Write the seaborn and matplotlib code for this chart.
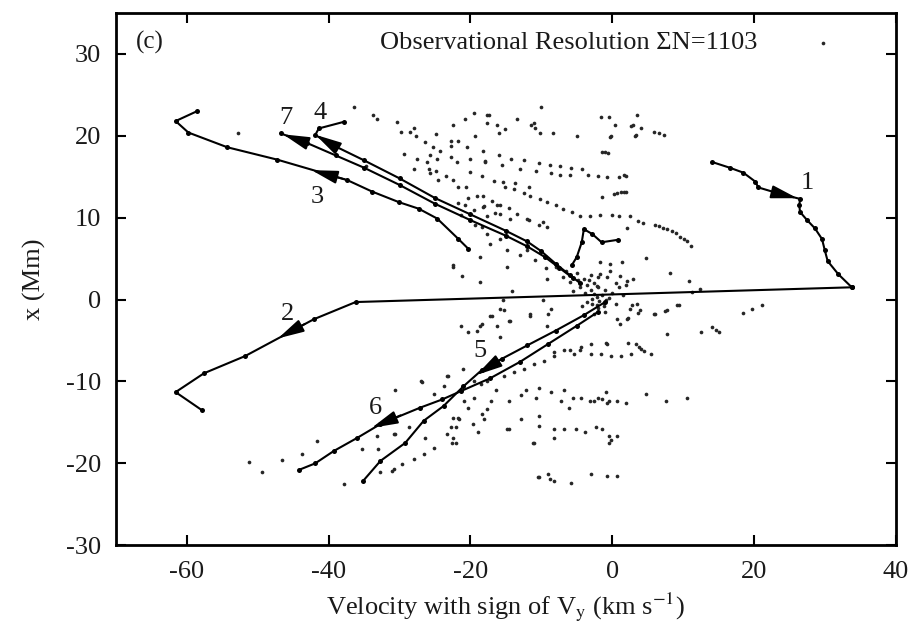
import numpy as np
import pandas as pd
import matplotlib
matplotlib.use("Agg")
import matplotlib.pyplot as plt
import seaborn as sns

# ---------------- data ----------------
track1_vx = [14.1, 16.6, 18.5, 20.2, 20.6, 23.7, 26.5, 26.4, 26.5, 27.5, 28.6, 29.6, 30.0, 30.4, 31.9, 33.8]
track1_x = [16.8, 16.1, 15.5, 14.4, 13.7, 12.9, 12.3, 11.5, 10.7, 9.7, 8.7, 7.4, 6.0, 4.7, 3.1, 1.5]

track2_vx = [33.8, -36.2, -42.1, -51.8, -57.6, -61.6, -57.9]
track2_x = [1.5, -0.3, -2.4, -6.9, -9.0, -11.3, -13.5]

track3_vx = [-58.6, -61.6, -59.8, -54.3, -47.3, -37.4, -33.9, -30.1, -27.3, -24.7, -21.7, -20.3]
track3_x = [23.0, 21.8, 20.4, 18.6, 17.1, 14.6, 13.2, 11.9, 11.1, 9.9, 7.4, 6.2]

track4_vx = [-37.9, -41.4, -41.9, -39.5, -35.0, -30.0, -25.0, -20.0, -15.0, -12.0, -10.0, -8.0, -6.0, -4.5]
track4_x = [21.7, 20.9, 20.1, 18.9, 17.0, 14.8, 12.4, 10.4, 8.4, 7.1, 5.9, 4.4, 3.0, 2.0]

track7_vx = [-46.8, -43.0, -39.0, -35.0, -30.0, -25.0, -20.0, -15.0, -12.0, -9.5, -7.5, -5.5]
track7_x = [20.3, 19.1, 17.6, 16.1, 14.0, 11.7, 9.7, 7.8, 6.5, 5.2, 3.9, 2.6]

wiggle_vx = [-5.7, -5.0, -4.3, -4.0, -2.8, -1.5, 0.8]
wiggle_x = [4.2, 5.2, 7.0, 8.6, 8.0, 7.0, 7.3]

track5_vx = [-1.0, -4.0, -8.0, -12.0, -15.5, -18.4, -21.0, -23.8, -26.6, -29.2, -32.7, -35.2]
track5_x = [-0.3, -1.9, -3.8, -5.6, -7.2, -8.6, -10.6, -13.0, -14.8, -17.5, -19.7, -22.2]

track6_vx = [-2.0, -5.0, -9.0, -13.0, -17.2, -21.4, -24.0, -27.1, -32.7, -36.0, -39.3, -41.9, -44.2]
track6_x = [-1.5, -3.2, -5.4, -7.6, -9.6, -11.2, -12.2, -13.2, -15.2, -16.9, -18.5, -20.0, -20.8]

upper_dots = [
    (-36.4, 23.5), (-33.8, 22.6), (-33.2, 22.0), (-30.4, 21.7), (-19.5, 22.8), (-17.6, 22.5), (-20.7, 22.0), (-17.7, 21.6),
    (-29.8, 20.5), (-28.6, 20.5), (-27.9, 21.0), (-27.7, 20.0), (-24.9, 20.2), (-22.4, 21.3), (-19.3, 20.0),
    (-26.4, 19.3), (-25.3, 18.6), (-24.3, 18.2), (-22.8, 19.4), (-21.8, 19.4), (-22.7, 18.8), (-20.5, 18.6), (-18.2, 18.1),
    (-29.4, 17.8), (-27.5, 17.2), (-25.7, 17.7), (-24.7, 17.2), (-22.8, 17.4), (-21.9, 16.8), (-20.0, 17.2), (-17.9, 16.8),
    (-26.1, 16.8), (-25.9, 16.0), (-24.8, 15.7), (-28.0, 15.9), (-25.7, 15.4), (-24.6, 14.6), (-23.4, 15.1), (-22.4, 14.6),
    (-21.8, 13.7), (-20.1, 15.6), (-18.4, 15.1), (-20.6, 13.7), (-20.4, 12.4), (-19.1, 12.6), (-18.2, 12.6), (-21.8, 11.8),
    (-19.5, 11.0), (-18.1, 11.4), (-34.7, 16.3),
    (-10.1, 23.5), (-17.4, 22.5), (-16.3, 21.3), (-15.1, 20.8), (-16.0, 20.3), (-13.4, 22.0), (-11.1, 21.6), (-10.9, 20.9),
    (-11.5, 21.3), (-10.2, 20.4), (-8.3, 20.3), (-4.9, 20.0), (-1.6, 22.3), (-0.4, 22.3), (0.4, 21.3), (3.5, 22.5),
    (3.0, 21.3), (3.2, 20.0), (-0.3, 19.9), (-1.4, 18.0), (-1.0, 18.0), (-0.6, 17.9),
    (-16.0, 17.6), (-17.9, 16.9), (-15.6, 16.4), (-14.3, 17.2), (-12.5, 17.0), (-10.4, 16.7), (-8.8, 16.4), (-7.4, 16.3),
    (-5.8, 16.1), (-4.3, 15.9), (-13.0, 15.9), (-10.7, 15.7), (-8.7, 15.5), (-7.4, 15.2), (-6.0, 15.2), (-3.4, 15.2),
    (-2.0, 15.1), (-0.7, 15.0), (1.0, 15.0), (2.0, 15.1), (-16.7, 14.5), (-15.4, 14.4), (-15.1, 13.7), (-13.9, 13.5),
    (-13.7, 14.2), (-11.7, 13.7), (-11.6, 12.6), (-12.5, 13.0), (-10.2, 12.3), (-9.2, 11.9), (-8.0, 11.5), (-6.9, 11.1),
    (-5.7, 10.7), (-4.5, 10.2), (-3.1, 10.2), (-1.7, 10.3), (0.0, 10.3), (0.2, 12.9), (0.7, 13.0), (1.2, 13.1),
    (1.6, 13.1), (2.0, 13.2), (-1.5, 12.5), (-17.0, 12.1), (-15.8, 11.6), (-14.5, 11.2), (-13.4, 10.4), (-16.5, 10.6),
    (-17.6, 10.2), (-12.0, 9.9), (1.6, 15.2), (0.9, 10.2), (2.5, 10.2), (2.1, 8.7), (3.7, 9.6), (4.4, 9.3),
    (6.1, 9.1), (6.6, 9.0), (7.2, 8.8), (7.8, 8.6), (8.4, 8.4), (9.0, 8.1), (9.6, 7.7), (10.1, 7.4), (10.5, 7.2), (11.1, 6.5),
    (4.7, 5.1), (8.2, 3.3), (10.8, 2.3), (12.4, 1.3), (11.2, 0.9),
    (2.6, 21.2), (4.0, 20.9), (5.9, 20.5), (6.6, 20.3), (7.3, 20.1), (3.3, 20.1), (-0.2, 20.0),
    (29.7, 31.3), (-52.8, 20.3), (-22.4, 4.0),
]

center_dots = [
    (-22.4, 4.2), (-21.2, 2.9), (-18.6, 2.1), (-14.1, 1.1), (-14.9, 4.0), (-18.6, 5.2), (-17.2, 6.8), (-15.8, 7.4),
    (-14.9, 6.0), (-13.0, 5.4), (-12.0, 6.0), (-10.4, 9.1), (-9.7, 9.5), (-9.2, 8.9), (-11.8, 9.7), (-14.4, 9.9),
    (-18.4, 8.9), (-19.3, 9.1), (-17.7, 8.0), (-21.4, 10.3), (-20.7, 11.5), (-18.2, 11.3), (-16.3, 11.5), (-15.8, 10.5),
    (-10.9, 4.8), (-9.2, 2.5), (-9.4, 3.8), (-8.0, 4.0), (-1.7, 4.6), (-0.3, 4.4), (1.4, 4.6), (1.1, 2.9), (2.1, 2.3),
    (3.0, 2.5), (-1.7, 3.1), (-0.7, 2.7), (-2.2, 1.7), (-2.6, 0.7), (-2.2, 0.3),
    (-4.0, 2.5), (-3.5, 1.8), (-3.0, 1.2), (-2.5, 2.0), (-2.0, 1.5), (-3.8, 0.8), (-4.5, 1.5), (-3.0, 3.0), (-2.0, 2.8),
    (-1.5, 0.5), (-1.0, 1.2), (-0.5, 0.2), (0.0, 0.8), (-2.8, -0.5), (-2.0, -1.0), (-1.2, -0.8), (-3.5, -0.3), (0.5, -0.5),
    (1.0, 1.5), (-5.0, 3.2), (-6.0, 2.2), (-5.5, 1.0), (-4.2, -0.8), (-1.0, -1.5), (-2.5, -1.8), (0.5, 2.0), (1.5, 0.6),
    (2.0, 1.8), (-0.3, 3.5), (-1.8, -0.2), (-0.9, 0.0), (-1.1, -0.4), (-2.9, 0.1), (-3.3, 2.4), (-4.8, 2.4), (-6.5, 3.5),
    (-7.0, 2.8), (-15.4, -0.1), (-15.3, -1.3), (-17.0, -2.0), (-18.4, -3.0), (-20.3, -4.0), (-19.1, -3.8), (-16.3, -3.2),
    (-15.8, -4.6), (-15.8, -1.1), (-11.6, -1.8), (-9.7, -0.1), (-8.7, -1.1), (-9.2, -3.2), (-14.6, -2.6), (-17.2, -2.0),
    (-18.6, -3.2), (2.5, -1.1), (3.5, -0.5), (2.1, -2.4), (1.1, -3.0),
]

lower_dots = [
    (2.8, -0.7), (3.9, -1.3), (6.1, -1.8), (7.5, -1.4), (9.4, -0.6), (18.5, -1.6), (19.7, -1.1), (21.1, -0.7),
    (-2.1, -0.7), (0.7, -2.4), (2.2, -2.2), (3.6, -1.6), (5.9, -1.8), (7.8, -1.3), (9.2, -0.7), (7.8, -4.2), (12.5, -4.0),
    (14.1, -3.3), (15.1, -4.0), (14.6, -3.7),
    (-4.4, -5.8), (-3.0, -6.6), (-1.6, -6.6), (-0.2, -6.9), (1.2, -6.9), (2.6, -6.6), (4.0, -6.0), (5.5, -6.6),
    (-3.0, -5.4), (-0.9, -5.3), (2.2, -5.3), (3.3, -5.4), (3.8, -5.8), (4.5, -6.3), (-8.2, -6.4), (-6.8, -6.2), (-5.4, -6.6),
    (-12.9, -11.7), (-12.2, -11.1), (-10.3, -10.8), (-10.8, -12.0), (-8.6, -11.3), (-6.8, -11.1), (-7.2, -12.4),
    (-6.1, -13.2), (-5.6, -12.0), (-4.4, -12.0), (-3.2, -12.4), (-2.5, -12.4), (-0.4, -12.4), (0.7, -12.4), (1.9, -12.6),
    (-0.9, -11.3), (4.8, -11.5), (7.6, -12.4), (10.6, -12.0), (-1.5, -12.2), (-0.8, -12.6), (-2.0, -12.0),
    (-10.3, -15.4), (-11.2, -17.5), (-8.2, -15.8), (-8.2, -16.9), (-6.8, -15.8), (-5.1, -15.8), (-3.9, -16.2),
    (-2.3, -15.6), (-1.4, -15.8), (-0.4, -16.6), (0.7, -16.6), (-0.4, -17.5), (-0.2, -17.2),
    (-12.9, -14.6), (-14.8, -15.8), (-19.0, -16.2),
    (-10.5, -21.7), (-9.1, -21.3), (-8.2, -22.2), (-8.8, -21.9), (-5.8, -22.4), (-3.0, -21.3), (-0.7, -21.5), (0.7, -21.5),
    (-18.1, -14.6), (-21.3, -3.2), (-21.6, -14.6), (-22.0, -15.6), (-22.0, -17.5),
    (-16.4, -11.1), (-14.5, -12.4), (-17.1, -12.4), (-20.4, -13.2), (-19.5, -12.0), (-20.9, -12.4),
    (-18.5, -10.3), (-19.5, -9.9), (-17.6, -9.9), (-15.2, -9.3), (-13.8, -8.9), (-12.4, -8.5), (-11.0, -7.9), (-9.6, -7.5),
    (-8.2, -6.9), (-11.6, -2.0), (-9.0, -1.8), (-14.4, -2.6), (-4.5, -6.2), (-5.9, -6.2), (-0.7, -5.4),
]

left_dots = [
    (-51.3, -19.8), (-49.4, -21.0), (-46.6, -19.6), (-43.8, -18.8), (-41.6, -17.3), (-37.9, -22.5), (-35.3, -18.3),
    (-33.0, -18.3), (-33.2, -16.6), (-30.6, -16.4), (-30.6, -11.1), (-28.7, -15.6), (-30.8, -20.7), (-29.7, -20.1),
    (-28.0, -19.5), (-26.4, -16.9), (-26.6, -18.8), (-25.2, -18.1), (-26.8, -10.1), (-25.2, -11.5), (-23.8, -10.5),
    (-23.1, -9.3), (-23.3, -16.4), (-22.4, -16.9), (-22.4, -14.4), (-22.8, -15.6), (-27.0, -10.0), (-23.3, -9.3),
    (-21.0, -8.5), (-32.7, -21.1), (-31.1, -20.9), (-21.7, -14.4), (-22.6, -17.5), (-19.6, -15.2), (-18.4, -14.0),
    (-17.7, -13.4), (-14.6, -15.8), (-11.1, -17.5), (-10.4, -14.2), (-10.4, -21.7), (-30.8, -16.4),
]

labels_text = ["1", "2", "3", "4", "5", "6", "7"]
labels_vx = [27.5, -45.8, -41.6, -41.2, -18.6, -33.4, -46.1]
labels_x = [14.2, -1.7, 12.5, 22.8, -6.3, -13.2, 22.2]

arrow_tip_vx = [26.5, -47.5, -42.8, -42.2, -19.5, -34.3, -46.8]
arrow_tip_x = [12.3, -4.9, 15.9, 20.3, -9.4, -15.8, 20.3]
arrow_tail_vx = [23.7, -43.0, -37.4, -39.5, -15.5, -29.5, -43.0]
arrow_tail_x = [12.9, -2.8, 14.6, 18.9, -7.2, -14.0, 19.1]

# ---------------- style ----------------
sns.set_theme(style="ticks")
plt.rcParams["font.family"] = ["Liberation Serif", "DejaVu Serif"]
plt.rcParams["mathtext.fontset"] = "stix"
plt.rcParams["axes.unicode_minus"] = False

TXT = "#1a1a1a"
fig = plt.figure(figsize=(9.14, 6.34), dpi=100)
ax = fig.add_axes([0.127, 0.140, 0.853, 0.8395])

dots = pd.DataFrame(upper_dots + center_dots + lower_dots + left_dots, columns=["vx", "x"])
sns.scatterplot(data=dots, x="vx", y="x", s=7, color="#262626", linewidth=0, ax=ax, zorder=2)

tracks = [(track1_vx, track1_x), (track2_vx, track2_x), (track3_vx, track3_x), (track4_vx, track4_x),
          (track7_vx, track7_x), (wiggle_vx, wiggle_x), (track5_vx, track5_x), (track6_vx, track6_x)]
for tvx, tx in tracks:
    sns.lineplot(x=tvx, y=tx, sort=False, estimator=None, color="black", lw=1.5,
                 marker="o", markersize=3.6, markeredgewidth=0, ax=ax, zorder=3)

for i in range(len(arrow_tip_vx)):
    ax.annotate("", xy=(arrow_tip_vx[i], arrow_tip_x[i]), xytext=(arrow_tail_vx[i], arrow_tail_x[i]),
                arrowprops=dict(arrowstyle="-|>,head_length=0.8,head_width=0.2", color="black",
                                lw=1.4, mutation_scale=20), zorder=4)

for t, lx, ly in zip(labels_text, labels_vx, labels_x):
    ax.text(lx, ly, t, fontsize=19, ha="center", va="center", color=TXT)

ax.text(-65.2, 31.4, "(c)", fontsize=18, ha="center", va="center", color=TXT)
ax.text(-32.8, 31.3, "Observational Resolution \u03a3N=1103", fontsize=19, ha="left", va="center", color=TXT)

ax.set_xlim(-70, 40)
ax.set_ylim(-30, 35)
ax.set_xticks([-60, -40, -20, 0, 20, 40])
ax.set_yticks([-30, -20, -10, 0, 10, 20, 30])
ax.tick_params(direction="in", length=7, width=1.5, top=True, right=True, labelsize=19,
               colors="black", labelcolor=TXT, pad=11)
for sp in ax.spines.values():
    sp.set_visible(True)
    sp.set_linewidth(2)
    sp.set_color("black")

ax.set_xlabel(r"Velocity with sign of V$_\mathrm{y}$ (km s$^{\mathrm{-1}}$)", fontsize=19, labelpad=6, color=TXT)
ax.set_ylabel("x (Mm)", fontsize=19, labelpad=14, color=TXT)

fig.savefig("out.png", dpi=100)
